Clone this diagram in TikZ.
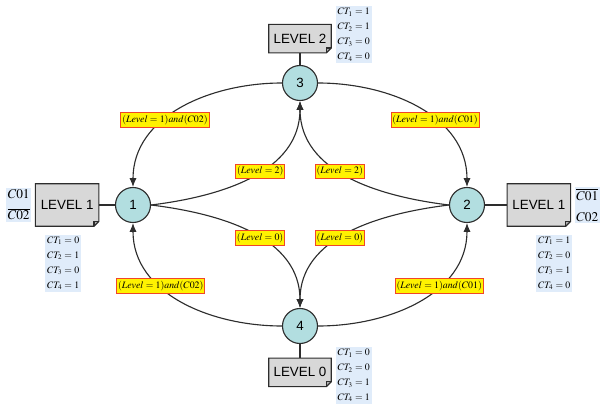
\documentclass[tikz,border=0pt]{standalone}
\usepackage{mathptmx}
\usepackage[no-math]{fontspec}
\newfontfamily\boxfont{Liberation Sans}
\usepackage{tikz}
\usetikzlibrary{arrows.meta, positioning}

\definecolor{statecyan}{RGB}{178,222,224}
\definecolor{boxgray}{RGB}{216,216,216}
\definecolor{tagblue}{RGB}{224,236,250}
\definecolor{lblred}{RGB}{240,70,40}
\definecolor{linegray}{RGB}{45,45,45}

\begin{document}
\begin{tikzpicture}[
        x=0.025cm, y=0.025cm,
        state/.style = {
            circle,
            draw=linegray,
            thick,
            fill=statecyan,
            minimum size=0.875cm,
            inner sep=0pt,
            font=\boxfont\fontsize{9.5}{11}\selectfont
        },
        lvlbox/.style = {
            rectangle,
            fill=boxgray,
            minimum width=1.575cm,
            minimum height=1.05cm,
            inner sep=0pt,
            font=\boxfont\fontsize{9.5}{11}\selectfont
        },
        flatbox/.style = {
            lvlbox,
            minimum width=1.55cm,
            minimum height=0.7cm
        },
        ctlist/.style = {
            rectangle,
            fill=tagblue,
            align=left,
            inner sep=1.5pt,
            font=\fontsize{7}{10.6}\selectfont
        },
        cflag/.style = {
            rectangle,
            fill=tagblue,
            align=center,
            inner sep=1pt,
            font=\fontsize{9.5}{15}\selectfont
        },
        lbl/.style = {
            rectangle,
            fill=yellow,
            draw=lblred,
            line width=0.6pt,
            inner xsep=1pt,
            inner ysep=1.8pt,
            font=\fontsize{7}{8}\selectfont
        },
        arc/.style = {
            thick,
            draw=linegray,
            -{Latex[length=2.2mm,width=1.8mm]}
        },
        link/.style = {
            thick,
            draw=linegray
        }
    ]

    \useasboundingbox (-300,-203) rectangle (300,205);

    % States
    \node[state] (n1) at (-167,0)   {1};
    \node[state] (n2) at (167,0)    {2};
    \node[state] (n3) at (0,122)    {3};
    \node[state] (n4) at (0,-121)   {4};

    % Level boxes
    \node[lvlbox, left=0.4cm of n1]    (lv1)  {LEVEL 1};
    \node[lvlbox, right=0.55cm of n2]  (lv1r) {LEVEL 1};
    \node[flatbox, above=0.3cm of n3]  (lv2)  {LEVEL 2};
    \node[flatbox, below=0.35cm of n4] (lv0)  {LEVEL 0};

    % Folded corners
    \foreach \b in {lv1, lv1r, lv2, lv0} {
        \fill[white] ([yshift=3.5pt]\b.south east) -- (\b.south east)
            -- ([xshift=-3.5pt]\b.south east) -- cycle;
        \draw[link, fill=gray!60] ([yshift=3.5pt]\b.south east)
            -- ([xshift=-3.5pt, yshift=3.5pt]\b.south east)
            -- ([xshift=-3.5pt]\b.south east);
        \draw[link] (\b.north west) -- (\b.north east)
            -- ([yshift=3.5pt]\b.south east) -- ([xshift=-3.5pt]\b.south east)
            -- (\b.south west) -- cycle;
    }

    % Ties to boxes
    \draw[link] (n1) -- (lv1);
    \draw[link] (n2) -- (lv1r);
    \draw[link] (n3) -- (lv2);
    \draw[link] (n4) -- (lv0);

    % Outputs
    \node[ctlist, below=0.2cm of lv1, xshift=-0.1cm] (ct1)
        {$CT_1=0$\\$CT_2=1$\\$CT_3=0$\\$CT_4=1$};
    \node[ctlist, below left=0.2cm and -0.05cm of lv1r.south east] (ct2)
        {$CT_1=1$\\$CT_2=0$\\$CT_3=1$\\$CT_4=0$};
    \node[ctlist, right=0.1cm of lv2, yshift=0.1cm] (ct3)
        {$CT_1=1$\\$CT_2=1$\\$CT_3=0$\\$CT_4=0$};
    \node[ctlist, right=0.1cm of lv0, yshift=-0.08cm] (ct4)
        {$CT_1=0$\\$CT_2=0$\\$CT_3=1$\\$CT_4=1$};

    % Conditions
    \node[cflag, left=0.1cm of lv1]  (cf1) {$C01$\\$\overline{C02}$};
    \node[cflag, right=0.1cm of lv1r] (cf2) {$\overline{C01}$\\$C02$};

    % Transitions
    \draw[arc] (n3.west) to[out=180, in=90]
        node[lbl, pos=0.6] {$(Level=1)and(C02)$} (n1.north);
    \draw[arc] (n3.east) to[out=0, in=90]
        node[lbl, pos=0.6] {$(Level=1)and(C01)$} (n2.north);
    \draw[arc] (n1.east) to[out=7, in=-90]
        node[lbl, pos=0.55] {$(Level=2)$} (n3.south);
    \draw[arc] (n2.west) to[out=173, in=-90]
        node[lbl, pos=0.55] {$(Level=2)$} (n3.south);
    \draw[arc] (n1.east) to[out=-7, in=90]
        node[lbl, pos=0.55] {$(Level=0)$} (n4.north);
    \draw[arc] (n2.west) to[out=187, in=90]
        node[lbl, pos=0.55] {$(Level=0)$} (n4.north);
    \draw[arc] (n4.west) to[out=180, in=-90]
        node[lbl, pos=0.63] {$(Level=1)and(C02)$} (n1.south);
    \draw[arc] (n4.east) to[out=0, in=-90]
        node[lbl, pos=0.63] {$(Level=1)and(C01)$} (n2.south);

\end{tikzpicture}
\end{document}
